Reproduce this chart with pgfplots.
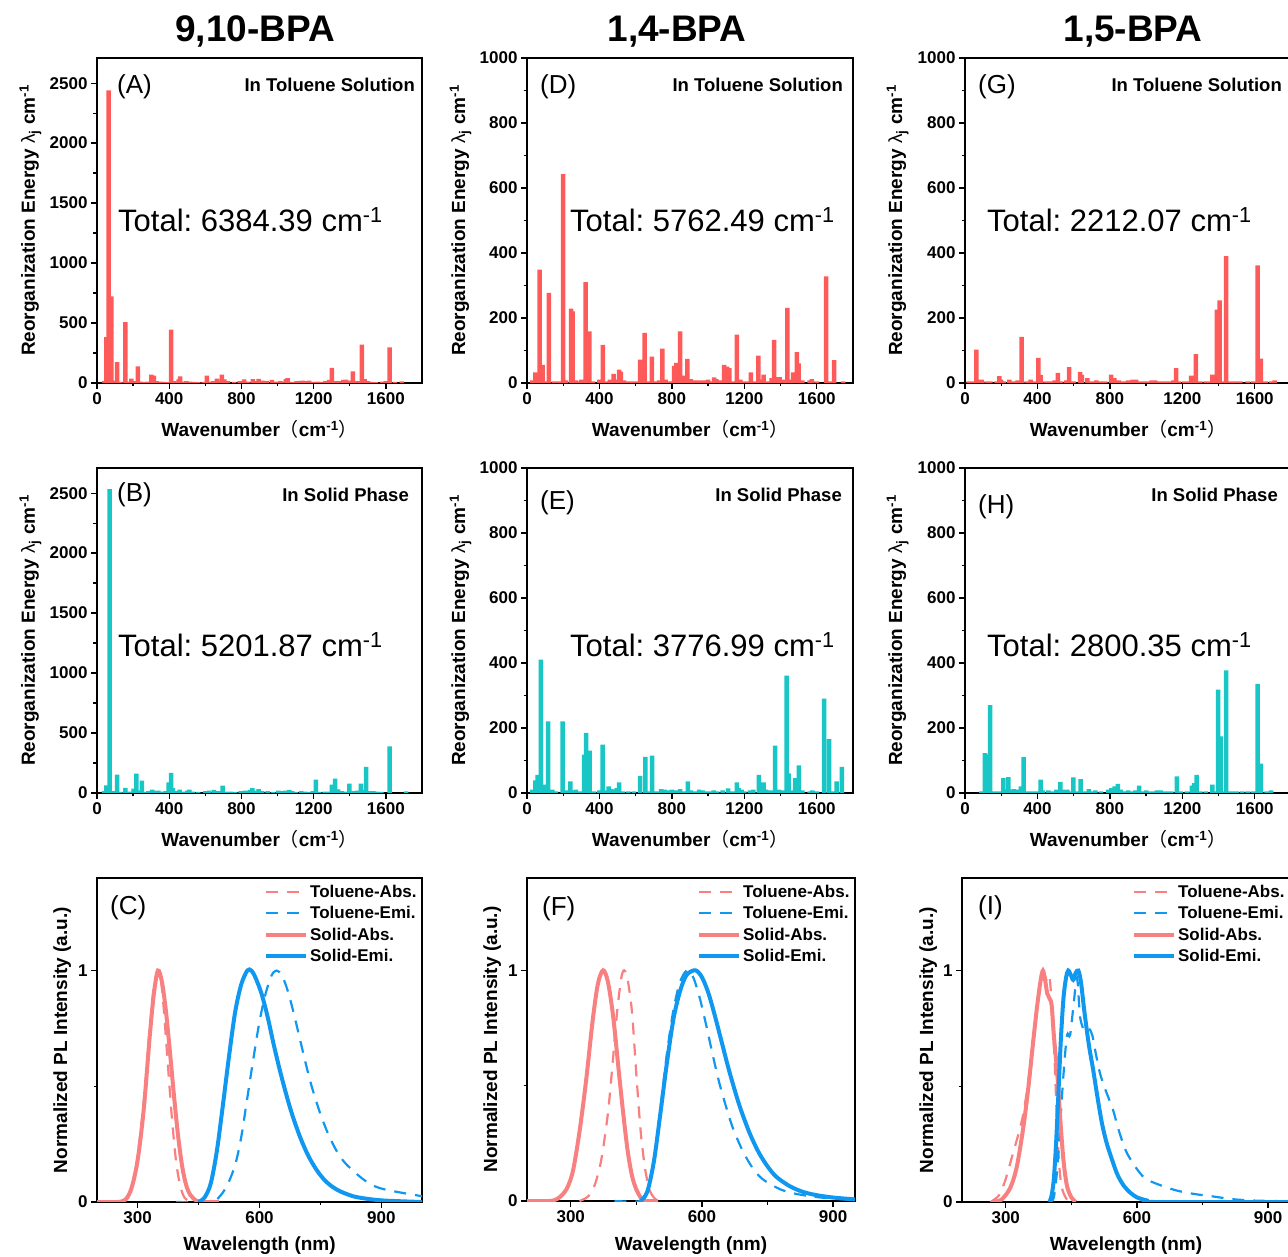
\documentclass[border=0pt]{standalone}
\usepackage{pgfplots}
\pgfplotsset{compat=1.18}
\usepackage{fontspec}
\setmainfont{Liberation Sans}
\newfontfamily\cjk{Noto Sans CJK SC}
\frenchspacing

\definecolor{barred}{RGB}{255,90,90}
\definecolor{barcyan}{RGB}{24,198,198}
\definecolor{absred}{RGB}{248,128,128}
\definecolor{emiblue}{RGB}{16,152,240}

\newcommand{\inv}{cm\textsuperscript{-1}}

\pgfplotsset{
  panel/.style={scale only axis, axis line style={line width=1.5pt},
    every tick/.style={black, line width=1.3pt}, tick align=outside, tick pos=left,
    major tick length=6pt, minor tick length=3.5pt,
    tick label style={font=\bfseries\fontsize{17}{20}\selectfont},
    label style={font=\bfseries\fontsize{19}{22}\selectfont},
    /pgf/number format/assume math mode=true, /pgf/number format/1000 sep={},
    ymin=0, minor x tick num=1, minor y tick num=1},
  lam/.style={panel, xmin=0, xmax=1800, xtick={0,400,...,1600},
    xlabel={Wavenumber{\cjk\mdseries （}\inv{\cjk\mdseries ）}},
    ylabel={Reorganization Energy {\mdseries λ}\textsubscript{j} \inv},
    xlabel style={at={(axis description cs:0.5,-0.166)}, anchor=base}},
  spec/.style={panel, xmax=1000, xmin=200, ymax=1.4, xtick={300,600,900}, ytick={0,1},
    xlabel={Wavelength (nm)}, ylabel={Normalized PL Intensity (a.u.)},
    legend style={draw=none, fill=none, at={(0.99,0.985)}, anchor=north east,
      font=\bfseries\fontsize{17}{19}\selectfont, row sep=3.6pt, inner sep=0pt, cells={anchor=west}},
    legend image code/.code={\draw[##1] (0pt,0pt) -- (40pt,0pt);}},
  bars/.style={ybar, bar width=4.5pt, draw=none},
  tdash/.style={line width=2.2pt, dash pattern=on 12pt off 9pt, smooth},
  sline/.style={line width=4pt, smooth},
}
\tikzset{
  plab/.style={anchor=west, inner sep=0pt, font=\fontsize{26}{30}\selectfont},
  tlab/.style={anchor=base west, inner sep=0pt, font=\fontsize{31}{36}\selectfont},
  slab/.style={anchor=east, inner sep=0pt, font=\bfseries\fontsize{18.5}{22}\selectfont},
  ttl/.style={anchor=base, inner sep=0pt, font=\bfseries\fontsize{37}{42}\selectfont},
}

\begin{document}
\begin{tikzpicture}
\useasboundingbox (0pt,0pt) rectangle (1288pt,1256pt);
\clip (0pt,0pt) rectangle (1288pt,1256pt);

\node[ttl] at (255pt,1214pt) {9,10-BPA};
\node[ttl] at (677pt,1214pt) {1,4-BPA};
\node[ttl] at (1133pt,1214pt) {1,5-BPA};

% (A)
\begin{axis}[lam, at={(97pt,873pt)}, anchor=south west, width=325pt, height=325pt,
  ymax=2710, ytick={0,500,...,2500},
  ylabel style={at={(axis description cs:-0.191,0.5)}, anchor=base}]
\addplot[bars, fill=barred] coordinates {
(40,15)(52,383)(65,2439)(79,722)(90,20)(111,175)(130,10)(157,508)(175,12)(190,36)(205,15)(227,139)(240,12)(260,10)(280,12)(301,69)(315,61)(330,15)(350,12)(370,10)(385,8)(410,444)(425,15)(440,12)(452,30)(461,55)(475,12)(495,15)(515,12)(535,10)(560,8)(590,10)(609,61)(625,12)(645,15)(664,36)(679,20)(692,69)(705,30)(725,15)(760,10)(790,15)(815,30)(835,12)(863,32)(880,15)(895,35)(915,20)(940,18)(969,25)(990,12)(1015,15)(1030,12)(1046,33)(1056,40)(1080,10)(1105,15)(1125,18)(1140,20)(1160,15)(1175,20)(1200,10)(1220,12)(1245,10)(1265,15)(1285,25)(1301,125)(1320,15)(1340,15)(1365,25)(1378,28)(1395,20)(1417,97)(1440,15)(1467,319)(1482,33)(1500,15)(1520,10)(1545,8)(1580,12)(1600,15)(1620,297)(1650,10)(1688,14)
};
\node[plab, xshift=20pt, yshift=-29pt] at (rel axis cs:0,1) {(A)};
\node[slab, xshift=-7pt, yshift=-27pt] at (rel axis cs:1,1) {In Toluene Solution};
\node[tlab, xshift=21pt, yshift=-174pt] at (rel axis cs:0,1) {Total: 6384.39 \inv};
\end{axis}

% (D)
\begin{axis}[lam, at={(527pt,873pt)}, anchor=south west, width=326pt, height=325pt,
  ymax=1000, ytick={0,200,...,1000},
  ylabel style={at={(axis description cs:-0.19,0.5)}, anchor=base}]
\addplot[bars, fill=barred] coordinates {
(30,8)(46,33)(57,25)(70,349)(86,56)(100,5)(121,277)(150,5)(175,5)(199,643)(215,8)(243,229)(252,220)(270,8)(285,5)(300,10)(324,310)(344,159)(365,5)(400,10)(419,117)(440,5)(458,10)(478,28)(492,10)(508,41)(518,35)(535,8)(560,5)(585,5)(610,5)(625,72)(637,72)(649,154)(665,5)(690,81)(710,5)(730,8)(748,106)(765,10)(790,5)(812,53)(825,62)(846,159)(864,23)(886,74)(905,12)(925,8)(950,8)(975,8)(1000,10)(1020,5)(1033,17)(1045,12)(1065,8)(1089,56)(1105,50)(1118,46)(1140,5)(1159,149)(1178,10)(1200,5)(1220,5)(1236,33)(1255,5)(1278,84)(1295,10)(1306,26)(1330,5)(1350,15)(1364,133)(1383,18)(1395,18)(1420,10)(1438,231)(1455,10)(1470,33)(1490,95)(1500,60)(1520,8)(1560,8)(1573,12)(1600,5)(1651,328)(1675,5)(1696,70)(1745,5)
};
\node[plab, xshift=13pt, yshift=-29pt] at (rel axis cs:0,1) {(D)};
\node[slab, xshift=-10pt, yshift=-27pt] at (rel axis cs:1,1) {In Toluene Solution};
\node[tlab, xshift=43pt, yshift=-174pt] at (rel axis cs:0,1) {Total: 5762.49 \inv};
\end{axis}

% (G)
\begin{axis}[lam, at={(965pt,873pt)}, anchor=south west, width=326pt, height=325pt,
  ymax=1000, ytick={0,200,...,1000},
  ylabel style={at={(axis description cs:-0.193,0.5)}, anchor=base}]
\addplot[bars, fill=barred] coordinates {
(20,5)(45,5)(63,103)(72,10)(92,10)(120,5)(140,5)(175,5)(190,21)(200,10)(215,5)(245,10)(265,5)(290,8)(312,142)(340,5)(362,10)(380,5)(405,77)(418,25)(445,5)(470,5)(495,8)(513,31)(530,5)(560,8)(575,49)(600,5)(635,34)(645,25)(675,15)(700,5)(725,8)(750,5)(775,5)(807,26)(825,15)(850,8)(875,5)(900,8)(925,10)(945,10)(970,5)(990,5)(1010,5)(1030,8)(1050,8)(1070,5)(1090,5)(1110,5)(1130,5)(1150,8)(1166,46)(1180,5)(1210,5)(1230,5)(1248,23)(1262,18)(1275,89)(1300,5)(1330,5)(1350,5)(1366,26)(1380,10)(1391,226)(1406,254)(1425,5)(1442,390)(1460,5)(1480,5)(1500,5)(1520,5)(1560,5)(1590,5)(1616,362)(1633,75)(1660,5)(1690,5)(1710,8)
};
\node[plab, xshift=13pt, yshift=-29pt] at (rel axis cs:0,1) {(G)};
\node[slab, xshift=-9pt, yshift=-27pt] at (rel axis cs:1,1) {In Toluene Solution};
\node[tlab, xshift=22pt, yshift=-174pt] at (rel axis cs:0,1) {Total: 2212.07 \inv};
\end{axis}

% (B)
\begin{axis}[lam, at={(97pt,463pt)}, anchor=south west, width=325pt, height=325pt,
  ymax=2710, ytick={0,500,...,2500},
  ylabel style={at={(axis description cs:-0.191,0.5)}, anchor=base}]
\addplot[bars, fill=barcyan] coordinates {
(40,15)(52,64)(70,2533)(85,15)(111,153)(130,10)(157,42)(180,12)(203,36)(218,161)(232,20)(249,103)(265,10)(285,15)(305,28)(320,20)(340,20)(360,12)(380,15)(397,89)(410,167)(420,40)(440,15)(458,28)(475,12)(500,20)(511,28)(530,12)(560,10)(600,15)(620,20)(647,25)(670,15)(696,61)(715,12)(740,12)(765,10)(795,15)(820,20)(830,20)(850,25)(860,40)(880,20)(895,33)(915,15)(945,15)(975,10)(1005,20)(1025,15)(1045,20)(1065,25)(1080,15)(1100,10)(1130,15)(1150,12)(1175,10)(1195,15)(1212,111)(1230,10)(1260,12)(1285,12)(1301,69)(1319,119)(1335,30)(1355,15)(1375,12)(1398,78)(1420,15)(1440,20)(1461,78)(1480,25)(1491,217)(1510,15)(1530,15)(1550,12)(1575,10)(1620,389)(1712,14)
};
\node[plab, xshift=20pt, yshift=-27pt] at (rel axis cs:0,1) {(B)};
\node[slab, xshift=-13pt, yshift=-27pt] at (rel axis cs:1,1) {In Solid Phase};
\node[tlab, xshift=21pt, yshift=-189pt] at (rel axis cs:0,1) {Total: 5201.87 \inv};
\end{axis}

% (E)
\begin{axis}[lam, at={(527pt,463pt)}, anchor=south west, width=326pt, height=325pt,
  ymax=1000, ytick={0,200,...,1000},
  ylabel style={at={(axis description cs:-0.19,0.5)}, anchor=base}]
\addplot[bars, fill=barcyan] coordinates {
(30,10)(46,39)(59,56)(77,410)(90,26)(116,220)(140,10)(160,5)(197,220)(215,8)(239,36)(260,8)(270,10)(290,5)(316,118)(327,185)(346,130)(370,5)(400,8)(417,149)(435,8)(450,20)(465,12)(480,10)(495,15)(509,33)(530,5)(560,5)(590,5)(625,53)(653,111)(670,5)(691,115)(715,5)(740,12)(760,10)(780,8)(800,10)(820,8)(845,12)(865,5)(888,36)(905,8)(930,5)(950,10)(970,8)(990,5)(1010,5)(1030,8)(1050,5)(1080,8)(1110,14)(1135,5)(1159,33)(1170,15)(1185,10)(1200,5)(1230,8)(1250,10)(1280,56)(1306,33)(1320,10)(1345,8)(1370,146)(1390,10)(1410,8)(1434,361)(1444,60)(1460,8)(1480,46)(1501,85)(1520,8)(1560,5)(1575,8)(1600,5)(1640,290)(1668,166)(1690,5)(1710,36)(1738,80)
};
\node[plab, xshift=13pt, yshift=-35pt] at (rel axis cs:0,1) {(E)};
\node[slab, xshift=-11pt, yshift=-27pt] at (rel axis cs:1,1) {In Solid Phase};
\node[tlab, xshift=43pt, yshift=-189pt] at (rel axis cs:0,1) {Total: 3776.99 \inv};
\end{axis}

% (H)
\begin{axis}[lam, at={(965pt,463pt)}, anchor=south west, width=326pt, height=325pt,
  ymax=1000, ytick={0,200,...,1000},
  ylabel style={at={(axis description cs:-0.193,0.5)}, anchor=base}]
\addplot[bars, fill=barcyan] coordinates {
(90,5)(109,123)(125,118)(138,270)(160,5)(185,5)(212,46)(225,10)(240,49)(255,10)(270,12)(290,10)(308,20)(323,110)(345,5)(370,5)(395,5)(417,41)(430,8)(460,8)(480,5)(505,10)(526,34)(540,10)(565,10)(580,5)(599,48)(620,5)(639,43)(660,5)(684,12)(710,5)(720,8)(750,5)(790,10)(808,15)(826,20)(844,28)(860,10)(880,5)(900,8)(925,5)(940,8)(961,23)(980,5)(1000,8)(1020,5)(1040,5)(1060,8)(1080,8)(1100,5)(1120,5)(1140,5)(1170,51)(1190,5)(1225,5)(1252,23)(1265,30)(1279,56)(1300,5)(1330,5)(1366,26)(1380,5)(1397,318)(1411,174)(1425,5)(1442,377)(1460,5)(1480,5)(1500,5)(1530,5)(1560,5)(1590,5)(1616,336)(1633,90)(1665,5)(1690,8)
};
\node[plab, xshift=13pt, yshift=-39pt] at (rel axis cs:0,1) {(H)};
\node[slab, xshift=-13pt, yshift=-27pt] at (rel axis cs:1,1) {In Solid Phase};
\node[tlab, xshift=22pt, yshift=-189pt] at (rel axis cs:0,1) {Total: 2800.35 \inv};
\end{axis}

% (C)
\begin{axis}[spec, at={(97pt,54pt)}, anchor=south west, width=325pt, height=324pt,
  xlabel style={at={(axis description cs:0.5,-0.151)}, anchor=base},
  ylabel style={at={(axis description cs:-0.092,0.5)}, anchor=base}]
\addplot[tdash, absred] coordinates {(250,0)(275,0.02)(290,0.1)(300,0.2)(315,0.43)(330,0.75)(340,0.93)(350,1.0)(358,0.95)(365,0.82)(375,0.58)(385,0.35)(395,0.17)(405,0.07)(415,0.02)(430,0)};
\addlegendentry{Toluene-Abs.}
\addplot[tdash, emiblue] coordinates {(395,0)(480,0)(500,0.02)(520,0.07)(540,0.16)(555,0.28)(570,0.45)(585,0.62)(600,0.78)(615,0.9)(630,0.98)(642,1.0)(655,0.98)(670,0.91)(685,0.81)(700,0.7)(715,0.59)(730,0.49)(750,0.38)(770,0.29)(790,0.22)(810,0.17)(840,0.12)(870,0.08)(900,0.058)(950,0.04)(1000,0.025)};
\addlegendentry{Toluene-Emi.}
\addplot[sline, absred] coordinates {(200,0)(250,0)(270,0.01)(285,0.06)(300,0.18)(315,0.4)(330,0.72)(340,0.9)(350,1.0)(360,0.95)(370,0.82)(380,0.64)(390,0.45)(400,0.28)(410,0.15)(420,0.07)(430,0.03)(445,0.005)(460,0)(500,0)};
\addlegendentry{Solid-Abs.}
\addplot[sline, emiblue] coordinates {(450,0)(465,0.02)(480,0.08)(495,0.22)(510,0.42)(525,0.63)(540,0.82)(555,0.94)(570,1.0)(580,1.0)(590,0.97)(605,0.9)(620,0.8)(635,0.68)(650,0.57)(665,0.47)(680,0.38)(700,0.28)(720,0.2)(740,0.14)(760,0.095)(780,0.065)(800,0.045)(830,0.025)(860,0.015)(900,0.007)(950,0.003)(1000,0)};
\addlegendentry{Solid-Emi.}
\node[plab, xshift=13pt, yshift=-30pt] at (rel axis cs:0,1) {(C)};
\end{axis}

% (F)
\begin{axis}[spec, at={(527pt,55pt)}, anchor=south west, width=328pt, height=323pt, xmax=950,
  xlabel style={at={(axis description cs:0.5,-0.152)}, anchor=base},
  ylabel style={at={(axis description cs:-0.091,0.5)}, anchor=base}]
\addplot[tdash, absred] coordinates {(320,0)(340,0.02)(355,0.07)(370,0.18)(385,0.38)(395,0.58)(405,0.8)(415,0.96)(422,1.0)(430,0.96)(440,0.82)(450,0.55)(460,0.3)(470,0.14)(480,0.05)(490,0.015)(500,0)};
\addlegendentry{Toluene-Abs.}
\addplot[tdash, emiblue] coordinates {(400,0)(460,0)(475,0.04)(490,0.17)(505,0.4)(520,0.64)(535,0.83)(550,0.95)(566,1.0)(580,0.97)(595,0.88)(610,0.76)(625,0.63)(640,0.51)(655,0.41)(670,0.32)(690,0.23)(710,0.16)(730,0.11)(750,0.08)(780,0.05)(810,0.033)(850,0.02)(900,0.01)(950,0.005)};
\addlegendentry{Toluene-Emi.}
\addplot[sline, absred] coordinates {(200,0)(250,0)(270,0.01)(290,0.05)(305,0.13)(320,0.3)(335,0.52)(350,0.78)(362,0.94)(374,1.0)(385,0.95)(397,0.8)(410,0.56)(420,0.38)(430,0.22)(440,0.11)(450,0.05)(460,0.015)(470,0)(500,0)};
\addlegendentry{Solid-Abs.}
\addplot[sline, emiblue] coordinates {(460,0)(475,0.04)(490,0.17)(505,0.38)(520,0.6)(535,0.79)(550,0.91)(565,0.98)(585,1.0)(600,0.97)(615,0.9)(630,0.8)(645,0.69)(660,0.58)(675,0.48)(690,0.39)(710,0.29)(730,0.21)(750,0.15)(770,0.105)(800,0.065)(830,0.04)(860,0.026)(900,0.015)(950,0.007)};
\addlegendentry{Solid-Emi.}
\node[plab, xshift=15pt, yshift=-31pt] at (rel axis cs:0,1) {(F)};
\end{axis}

% (I)
\begin{axis}[spec, at={(962pt,54pt)}, anchor=south west, width=328pt, height=324pt, xmax=950,
  xlabel style={at={(axis description cs:0.5,-0.151)}, anchor=base},
  ylabel style={at={(axis description cs:-0.088,0.5)}, anchor=base}]
\addplot[tdash, absred] coordinates {(265,0)(285,0.03)(300,0.1)(315,0.2)(330,0.3)(340,0.38)(350,0.5)(360,0.66)(370,0.82)(380,0.93)(388,0.98)(395,0.95)(400,0.97)(405,0.86)(412,0.6)(418,0.3)(424,0.12)(430,0.05)(440,0.01)(445,0)};
\addlegendentry{Toluene-Abs.}
\addplot[tdash, emiblue] coordinates {(400,0)(410,0.02)(418,0.15)(425,0.35)(432,0.55)(440,0.72)(447,0.72)(455,0.85)(463,0.97)(470,0.8)(480,0.74)(490,0.75)(498,0.72)(505,0.65)(515,0.56)(525,0.5)(535,0.45)(545,0.4)(560,0.3)(575,0.22)(590,0.17)(605,0.13)(620,0.1)(650,0.075)(690,0.05)(730,0.035)(770,0.025)(820,0.012)(870,0.006)(950,0.003)};
\addlegendentry{Toluene-Emi.}
\addplot[sline, absred] coordinates {(270,0)(290,0.01)(310,0.06)(325,0.15)(340,0.32)(352,0.5)(362,0.68)(372,0.85)(380,0.96)(385,1.0)(390,0.96)(395,0.9)(400,0.88)(405,0.85)(410,0.72)(418,0.55)(425,0.35)(432,0.18)(440,0.07)(450,0.02)(460,0)};
\addlegendentry{Solid-Abs.}
\addplot[sline, emiblue] coordinates {(400,0)(405,0.03)(410,0.1)(415,0.25)(420,0.45)(426,0.7)(432,0.88)(438,0.97)(443,1.0)(449,0.98)(454,0.96)(460,0.99)(466,1.0)(472,0.95)(480,0.82)(490,0.68)(500,0.57)(510,0.45)(520,0.34)(530,0.26)(540,0.2)(555,0.12)(570,0.07)(585,0.04)(600,0.02)(620,0.008)(640,0)(950,0)};
\addlegendentry{Solid-Emi.}
\node[plab, xshift=16pt, yshift=-30pt] at (rel axis cs:0,1) {(I)};
\end{axis}
\end{tikzpicture}
\end{document}
